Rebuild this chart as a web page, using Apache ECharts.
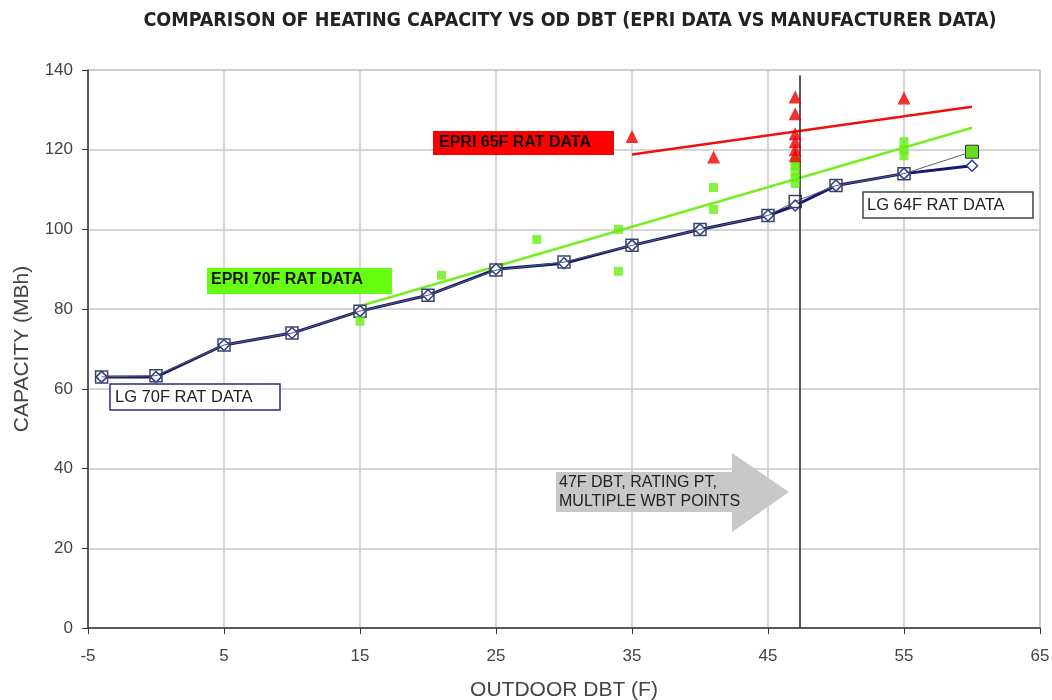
<!DOCTYPE html>
<html><head><meta charset="utf-8">
<script src="https://cdn.jsdelivr.net/npm/echarts@6/dist/echarts.min.js"></script>
<style>html,body{margin:0;padding:0;background:#fff}#c{width:1052px;height:700px}</style>
</head><body><div id="c"></div>
<script>
// ---- data ----
const lg70X = [-4, 0, 5, 10, 15, 20, 25, 30, 35, 40, 45, 47, 50, 55, 60];
const lg70Y = [63, 63, 71, 74, 79.5, 83.5, 90, 91.5, 96, 100, 103.5, 106, 111, 114, 116];
const lg64X = [-4, 0, 5, 10, 15, 20, 25, 30, 35, 40, 45, 47, 50, 55, 60];
const lg64Y = [63, 63.3, 71, 74, 79.5, 83.5, 89.8, 91.8, 96, 100, 103.5, 107, 111, 114, 119.5];
const epri70X = [15, 21, 28, 34, 34, 41, 41, 47, 47, 47, 47, 47, 55, 55, 55];
const epri70Y = [77, 88.5, 97.5, 100, 89.5, 110.5, 105, 111.5, 113, 114.5, 116, 117, 122, 120, 118.5];
const epri70TrendX = [15, 60];
const epri70TrendY = [80.8, 125.5];
const epri65X = [35, 41, 47, 47, 47, 47, 47, 47, 55];
const epri65Y = [123.3, 118.2, 133.2, 129, 124, 122, 120, 118.5, 133];
const epri65TrendX = [35, 60];
const epri65TrendY = [118.8, 130.8];
const ratingLineX = 47.3;
const xTicks = {min: -5, max: 65, interval: 10};
const yTicks = {min: 0, max: 140, interval: 20};

const zip = (xs, ys) => xs.map((x, i) => [x, ys[i]]);
const lg64Data = zip(lg64X, lg64Y).map((p, i, a) => i === a.length - 1
  ? {value: p, symbolSize: 13, itemStyle: {color: '#66dd22', borderColor: '#333333', borderWidth: 1}} : p);

const chart = echarts.init(document.getElementById('c'));
const font = 'Arial, "Liberation Sans", sans-serif';
chart.setOption({
  backgroundColor: '#fff',
  animation: false,
  title: {
    text: 'COMPARISON OF HEATING CAPACITY VS OD DBT (EPRI DATA VS MANUFACTURER DATA)',
    left: 565, top: 6, textAlign: 'center',
    textStyle: {fontFamily: '"Liberation Sans Narrow", "DejaVu Sans Condensed", Arial', fontWeight: 'bold', fontSize: 19.5, color: '#222'}
  },
  grid: {left: 88, right: 12, top: 70, bottom: 72, outerBoundsMode: 'none', containLabel: false,
    show: true, borderColor: '#c8c8c8', borderWidth: 1},
  xAxis: {
    type: 'value', min: xTicks.min, max: xTicks.max, interval: xTicks.interval,
    name: 'OUTDOOR DBT (F)', nameLocation: 'middle', nameGap: 52,
    nameTextStyle: {fontFamily: font, fontSize: 21, color: '#444'},
    axisLine: {onZero: false, lineStyle: {color: '#333', width: 1.5}},
    axisTick: {show: true, inside: false, length: 6, lineStyle: {color: '#333'}},
    axisLabel: {fontFamily: font, fontSize: 17, color: '#444', margin: 20},
    splitLine: {lineStyle: {color: '#c8c8c8', width: 1.5}}
  },
  yAxis: {
    type: 'value', min: yTicks.min, max: yTicks.max, interval: yTicks.interval,
    name: 'CAPACITY (MBh)', nameLocation: 'middle', nameGap: 55, nameRotate: 90,
    nameTextStyle: {fontFamily: font, fontSize: 21, color: '#444'},
    axisLine: {show: true, onZero: false, lineStyle: {color: '#333', width: 1.5}},
    axisTick: {show: true, length: 6, lineStyle: {color: '#333'}},
    axisLabel: {fontFamily: font, fontSize: 17, color: '#444', margin: 15},
    splitLine: {lineStyle: {color: '#c8c8c8', width: 1.5}}
  },
  series: [
    {
      name: 'EPRI 70F trend', type: 'line', data: zip(epri70TrendX, epri70TrendY),
      showSymbol: false, lineStyle: {color: '#77ee22', width: 2.5}, z: 2
    },
    {
      name: 'EPRI 65F trend', type: 'line', data: zip(epri65TrendX, epri65TrendY),
      showSymbol: false, lineStyle: {color: '#ee1111', width: 2.5}, z: 2
    },
    {
      name: 'LG 70F RAT DATA', type: 'line', data: zip(lg70X, lg70Y),
      symbol: 'diamond', symbolSize: 11,
      lineStyle: {color: '#14176e', width: 3},
      itemStyle: {color: '#ffffff', borderColor: '#2a3a9a', borderWidth: 1.5}, z: 3
    },
    {
      name: 'LG 64F RAT DATA', type: 'line', data: lg64Data,
      symbol: 'rect', symbolSize: 12,
      lineStyle: {color: '#5a6070', width: 1},
      itemStyle: {color: 'rgba(255,255,255,0)', borderColor: '#3a4560', borderWidth: 1.5}, z: 4
    },
    {
      name: 'EPRI 70F RAT DATA', type: 'scatter', data: zip(epri70X, epri70Y),
      symbol: 'rect', symbolSize: 9, itemStyle: {color: '#66ee11'}, z: 5
    },
    {
      name: 'EPRI 65F RAT DATA', type: 'scatter', data: zip(epri65X, epri65Y),
      symbol: 'triangle', symbolSize: 13, itemStyle: {color: '#ee0000'}, z: 5,
      markLine: {
        silent: true, symbol: 'none', label: {show: false},
        lineStyle: {color: '#222', width: 1.5, type: 'solid'},
        data: [[{coord: [ratingLineX, 138.6]}, {coord: [ratingLineX, 0]}]]
      }
    }
  ],
  graphic: [
    {type: 'rect', shape: {x: 433, y: 131, width: 181, height: 24}, style: {fill: '#ff0000'}, z: 10},
    {type: 'text', x: 439, y: 143, style: {text: 'EPRI 65F RAT DATA', fontFamily: font, fontWeight: 'bold', fontSize: 16, fill: '#111', textVerticalAlign: 'middle'}, z: 11},
    {type: 'rect', shape: {x: 207, y: 268, width: 185, height: 26}, style: {fill: '#66ff11'}, z: 10},
    {type: 'text', x: 211, y: 280, style: {text: 'EPRI 70F RAT DATA', fontFamily: font, fontWeight: 'bold', fontSize: 16, fill: '#111', textVerticalAlign: 'middle'}, z: 11},
    {type: 'rect', shape: {x: 110, y: 384, width: 170, height: 26}, style: {fill: '#fff', stroke: '#2a2a8a', lineWidth: 1.5}, z: 10},
    {type: 'text', x: 115, y: 397, style: {text: 'LG 70F RAT DATA', fontFamily: font, fontSize: 16.5, fill: '#222', textVerticalAlign: 'middle'}, z: 11},
    {type: 'rect', shape: {x: 863, y: 192, width: 170, height: 26}, style: {fill: '#fff', stroke: '#3a4a4a', lineWidth: 1.5}, z: 10},
    {type: 'text', x: 867, y: 205, style: {text: 'LG 64F RAT DATA', fontFamily: font, fontSize: 16.5, fill: '#222', textVerticalAlign: 'middle'}, z: 11},
    {type: 'polygon', shape: {points: [[556, 472], [732, 472], [732, 453], [789, 492], [732, 532], [732, 512], [556, 512]]}, style: {fill: '#c8c8c8'}, z: 10},
    {type: 'text', x: 559, y: 492, style: {text: '47F DBT, RATING PT,\nMULTIPLE WBT POINTS', fontFamily: font, fontSize: 16, lineHeight: 19, fill: '#222', textVerticalAlign: 'middle'}, z: 11}
  ]
});
</script></body></html>
